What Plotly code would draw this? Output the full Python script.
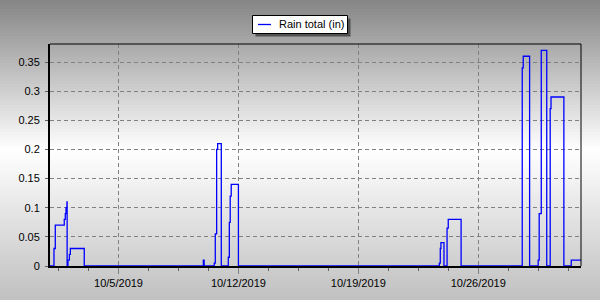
import plotly.graph_objects as go

# ---- data: daily rain accumulation (resets at midnight), change points ----
times = [
    "2019-10-01 00:00", "2019-10-01 05:35", "2019-10-01 07:25", "2019-10-01 20:00",
    "2019-10-01 21:25", "2019-10-01 22:25", "2019-10-01 23:45", "2019-10-02 00:00",
    "2019-10-02 01:10", "2019-10-02 03:10", "2019-10-02 04:30", "2019-10-03 00:00",
    "2019-10-09 22:50", "2019-10-10 00:00",
    "2019-10-10 14:10", "2019-10-10 15:35", "2019-10-10 17:30", "2019-10-10 18:55",
    "2019-10-11 00:00",
    "2019-10-11 09:50", "2019-10-11 11:15", "2019-10-11 12:30", "2019-10-11 13:55",
    "2019-10-12 00:00",
    "2019-10-23 17:30", "2019-10-23 18:50", "2019-10-23 19:45", "2019-10-24 00:00",
    "2019-10-24 04:20", "2019-10-24 06:00", "2019-10-25 00:00",
    "2019-10-28 13:40", "2019-10-28 15:05", "2019-10-29 00:00",
    "2019-10-29 12:00", "2019-10-29 13:25", "2019-10-29 16:20", "2019-10-30 00:00",
    "2019-10-30 04:50", "2019-10-30 06:00", "2019-10-31 00:00",
    "2019-10-31 10:20", "2019-11-01 00:00",
]
rain_in = [
    0.0, 0.03, 0.07, 0.08,
    0.09, 0.10, 0.11, 0.0,
    0.01, 0.02, 0.03, 0.0,
    0.01, 0.0,
    0.005, 0.055, 0.20, 0.21,
    0.0,
    0.015, 0.075, 0.12, 0.14,
    0.0,
    0.005, 0.03, 0.04, 0.0,
    0.065, 0.08, 0.0,
    0.34, 0.36, 0.0,
    0.01, 0.09, 0.37, 0.0,
    0.27, 0.29, 0.0,
    0.01, 0.01,
]
series_name = "Rain total (in)"

# ---- layout geometry (pixels) ----
W, H = 600, 300
L, R, T, B = 50, 581, 44, 266
pw, ph = R - L, B - T


def px(x):
    return (x - L) / pw


def py(y):
    return (B - y) / ph


def grey(v):
    v = int(round(max(0, min(255, v))))
    return f"rgb({v},{v},{v})"


def bg_level(y):
    if y <= 150:
        return 133 + (255 - 133) * y / 150
    return 255 - (255 - 192) * (y - 150) / 150


shapes = []
step = 3
for y0 in range(0, H, step):
    shapes.append(dict(type="rect", xref="paper", yref="paper", layer="below",
                       x0=px(0), x1=px(W), y0=py(y0 + step), y1=py(y0),
                       fillcolor=grey(bg_level(y0 + step / 2)), line_width=0))

# top / right thin frame lines
shapes.append(dict(type="line", xref="paper", yref="paper", x0=0, x1=1, y0=1, y1=1,
                   line=dict(color="black", width=1), layer="above"))
shapes.append(dict(type="line", xref="paper", yref="paper", x0=1, x1=1, y0=0, y1=1,
                   line=dict(color="black", width=1), layer="above"))

# manual legend box
lx0, lx1, ly0, ly1 = 252.5, 347.5, 15.5, 33.5
shapes.append(dict(type="rect", xref="paper", yref="paper", layer="above",
                   x0=px(lx0 + 3), x1=px(lx1 + 3), y0=py(ly1 + 3), y1=py(ly0 + 3),
                   fillcolor="#505050", line_width=0))
shapes.append(dict(type="rect", xref="paper", yref="paper", layer="above",
                   x0=px(lx0), x1=px(lx1), y0=py(ly1), y1=py(ly0),
                   fillcolor="white", line=dict(color="black", width=1)))
shapes.append(dict(type="line", xref="paper", yref="paper", layer="above",
                   x0=px(258), x1=px(271), y0=py(24.5), y1=py(24.5),
                   line=dict(color="#0000ff", width=1.3)))

fig = go.Figure()
fig.add_trace(go.Scatter(x=times, y=rain_in, mode="lines", name=series_name,
                         line=dict(color="#0000ff", width=1.3, shape="hv"),
                         showlegend=False))

font = dict(family="Liberation Sans, Arial, sans-serif", size=11, color="black")

fig.update_layout(
    width=W, height=H,
    margin=dict(l=L, r=W - R, t=T, b=H - B, pad=0),
    paper_bgcolor="#c0c0c0",
    plot_bgcolor="rgba(0,0,0,0)",
    font=font,
    shapes=shapes,
    annotations=[dict(text=series_name, xref="paper", yref="paper",
                      x=px(276.5), y=py(24.5), xanchor="left", yanchor="middle",
                      showarrow=False, font=font)],
    xaxis=dict(
        type="date",
        range=["2019-10-01 00:00", "2019-11-01 00:00"],
        tick0="2019-10-05", dtick=7 * 86400000,
        tickformat="%-m/%-d/%Y",
        ticks="outside", ticklen=6, tickcolor="#808080", tickwidth=1,
        showgrid=True, gridcolor="#808080", gridwidth=1, griddash="4px,3px",
        showline=True, linecolor="black", linewidth=2,
        zeroline=False,
        minor=dict(tick0="2019-10-05", dtick=1.75 * 86400000, ticks="outside",
                   ticklen=3, tickcolor="#606060", tickwidth=1, showgrid=False),
        tickfont=font,
    ),
    yaxis=dict(
        range=[0, 0.381],
        dtick=0.05, tick0=0,
        ticks="outside", ticklen=3, tickcolor="#606060", tickwidth=1,
        showgrid=True, gridcolor="#808080", gridwidth=1, griddash="4px,3px",
        showline=True, linecolor="black", linewidth=2,
        zeroline=False,
        ticklabelstandoff=3,
        tickfont=font,
    ),
)

fig.write_html("out.html")
